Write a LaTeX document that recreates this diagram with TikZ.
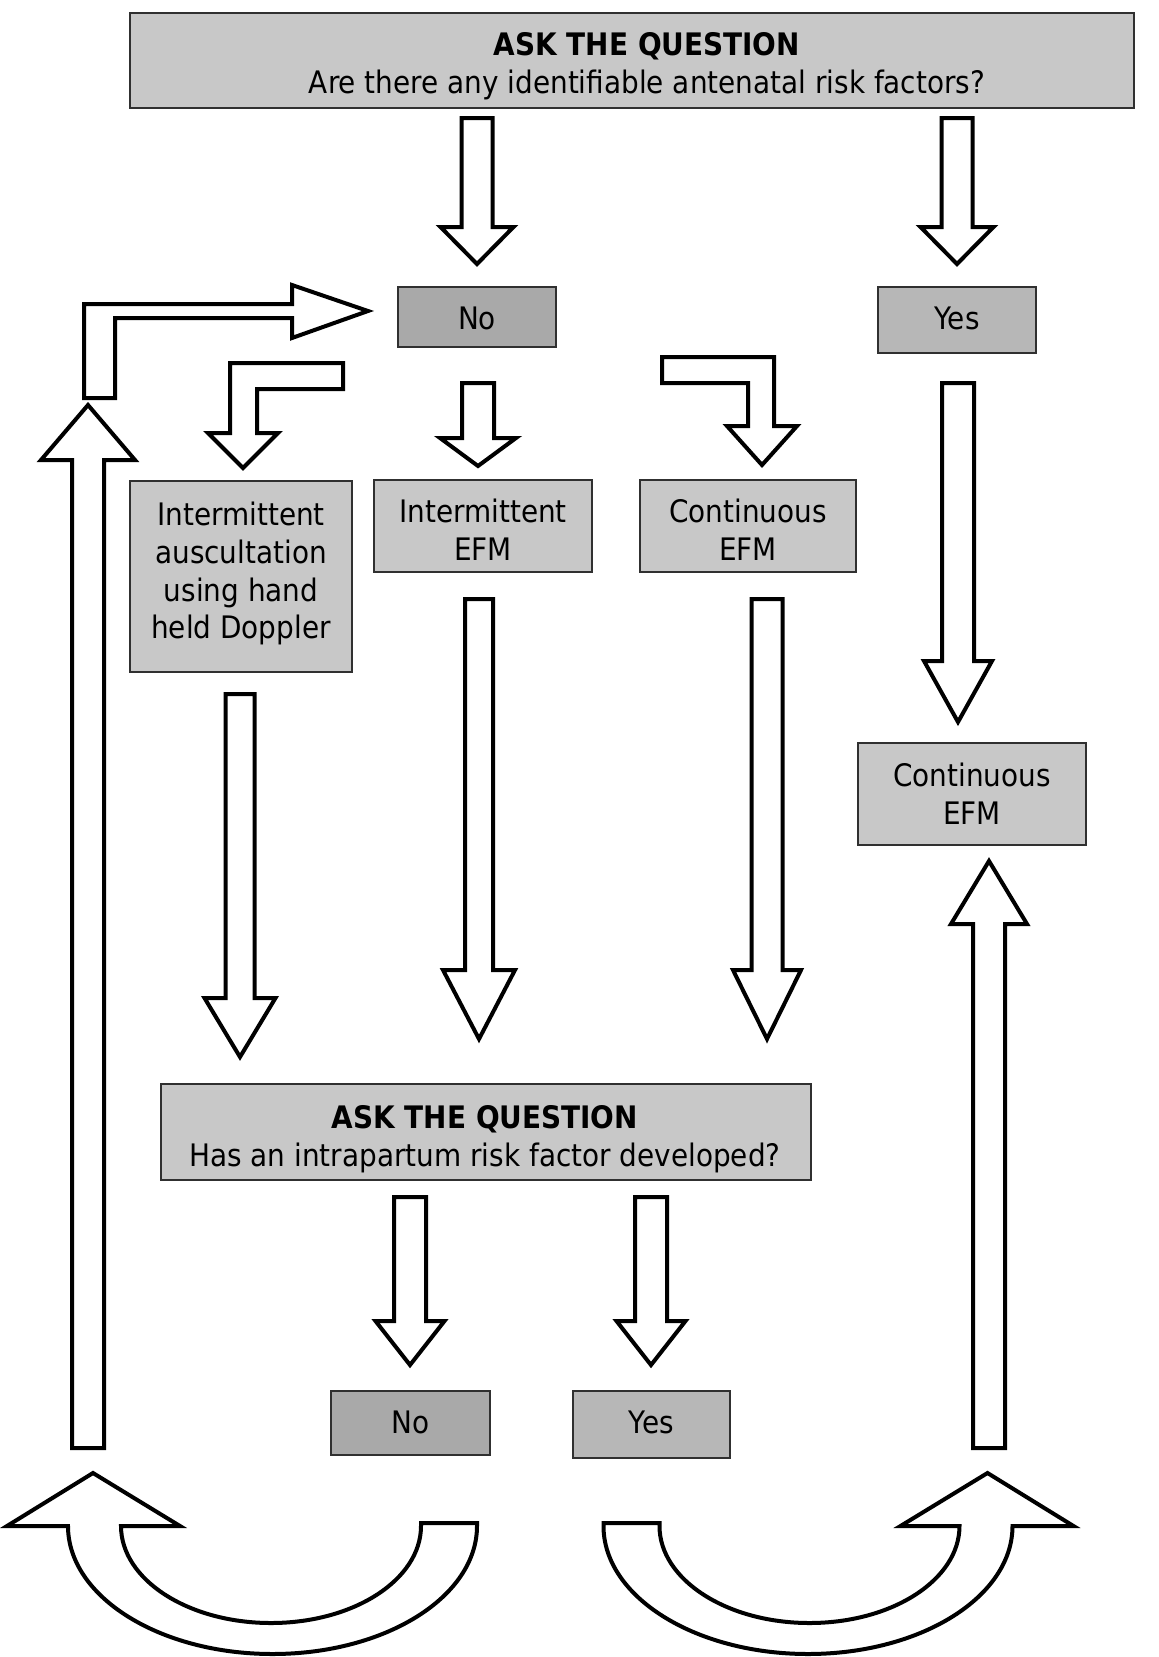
\documentclass[tikz,border=0pt]{standalone}
\usepackage{fontspec}
\setmainfont{DejaVu Sans}[FakeStretch=0.9]
\definecolor{boxlight}{HTML}{C8C8C8}
\definecolor{boxno}{HTML}{A9A9A9}
\definecolor{boxyes}{HTML}{B7B7B7}
\definecolor{boxline}{HTML}{303030}
\tikzset{
  blk/.style={draw=black, line width=4pt, fill=white, line join=miter},
  gbox/.style={draw=boxline, line width=1.8pt, fill=boxlight, inner sep=0pt, rectangle},
  nobox/.style={gbox, fill=boxno},
  yesbox/.style={gbox, fill=boxyes},
  txt/.style={inner sep=0pt, anchor=base, font=\fontsize{31}{38}\selectfont},
  btxt/.style={txt, font=\fontsize{31}{38}\selectfont\bfseries}
}
\newcommand\VArrow[6]{\draw[blk] ({#1-#5},#2) -- ({#1+#5},#2) -- ({#1+#5},#3) -- ({#1+#6},#3) -- (#1,#4) -- ({#1-#6},#3) -- ({#1-#5},#3) -- cycle;}
\begin{document}
\begin{tikzpicture}[x=1pt,y=-1pt]
\useasboundingbox[fill=white] (0,0) rectangle (1159,1657);

% boxes
\node[gbox, minimum width=1004, minimum height=95] (q1) at (632,60.5) {};
\node[nobox, minimum width=158, minimum height=60] (no1) at (477,317) {};
\node[yesbox, minimum width=158, minimum height=66] (yes1) at (957,320) {};
\node[gbox, minimum width=222, minimum height=191] (ia) at (241,576.5) {};
\node[gbox, minimum width=218, minimum height=92] (ie) at (483,526) {};
\node[gbox, minimum width=216, minimum height=92] (ce) at (748,526) {};
\node[gbox, minimum width=228, minimum height=102] (ce2) at (972,794) {};
\node[gbox, minimum width=650, minimum height=96] (q2) at (486,1132) {};
\node[nobox, minimum width=159, minimum height=64] (no2) at (410.5,1423) {};
\node[yesbox, minimum width=157, minimum height=67] (yes2) at (651.5,1424.5) {};

% texts
\node[btxt] (q1a) at (647,55) {ASK THE QUESTION};
\node[txt] (q1b) at (647,93) {Are there any identifiable antenatal risk factors?};
\node[txt] (no1t) at (477,329) {No};
\node[txt] (yes1t) at (957,329) {Yes};
\node[txt] (iaa) at (241,525) {Intermittent};
\node[txt] (iab) at (241,563) {auscultation};
\node[txt] (iac) at (241,601) {using hand};
\node[txt] (iad) at (241,638.5) {held Doppler};
\node[txt] (iea) at (483,522) {Intermittent};
\node[txt] (ieb) at (483,560) {EFM};
\node[txt] (cea) at (748,522) {Continuous};
\node[txt] (ceb) at (748,560) {EFM};
\node[txt] (ce2a) at (972,786) {Continuous};
\node[txt] (ce2b) at (972,824) {EFM};
\node[btxt] (q2a) at (485,1128) {ASK THE QUESTION};
\node[txt] (q2b) at (485,1166) {Has an intrapartum risk factor developed?};
\node[txt] (no2t) at (410.5,1433) {No};
\node[txt] (yes2t) at (651.5,1433) {Yes};

% straight block arrows
\VArrow{477}{118}{227}{264}{15.5}{36.5}
\VArrow{957}{118}{227}{264}{15.5}{36.5}
\VArrow{478}{383}{438}{466}{16}{38}
\VArrow{958}{383}{661}{722}{16}{34}
\VArrow{240}{694}{998}{1057}{14.5}{35.5}
\VArrow{479}{599}{970}{1039}{14}{36}
\VArrow{767}{599}{970}{1039}{15.5}{34}
\VArrow{410}{1197}{1321}{1365}{16}{34.5}
\VArrow{651}{1197}{1321}{1365}{16}{34.5}
\VArrow{88}{1448}{460}{405}{16}{47}
\VArrow{989}{1448}{924}{861}{16}{38}

% bent block arrows
\draw[blk] (84,398) -- (84,304) -- (292,304) -- (292,285) -- (368,311) -- (292,338) -- (292,318) -- (115,318) -- (115,398) -- cycle;
\draw[blk] (343,363) -- (343,389) -- (257,389) -- (257,433) -- (278,433) -- (243,468) -- (208,433) -- (230,433) -- (230,363) -- cycle;
\draw[blk] (662,357) -- (774,357) -- (774,426) -- (797,426) -- (762,465) -- (727,426) -- (748,426) -- (748,383) -- (662,383) -- cycle;

% curved block arrows
\draw[blk] (93,1473) -- (180,1526) -- (121,1526) .. controls (121,1579.6) and (188.2,1623) .. (271,1623) .. controls (353.8,1623) and (421,1579.6) .. (421,1526) -- (421,1523) -- (477,1523) -- (477,1526) .. controls (477,1596.7) and (385.4,1654) .. (272.5,1654) .. controls (159.6,1654) and (68,1596.7) .. (68,1526) -- (7,1526) -- cycle;
\draw[blk] (987.5,1473) -- (900.5,1526) -- (959.5,1526) .. controls (959.5,1579.6) and (892.3,1623) .. (809.5,1623) .. controls (726.7,1623) and (659.5,1579.6) .. (659.5,1526) -- (659.5,1523) -- (603.5,1523) -- (603.5,1526) .. controls (603.5,1596.7) and (695.1,1654) .. (808,1654) .. controls (920.9,1654) and (1012.5,1596.7) .. (1012.5,1526) -- (1073.5,1526) -- cycle;
\end{tikzpicture}
\end{document}
